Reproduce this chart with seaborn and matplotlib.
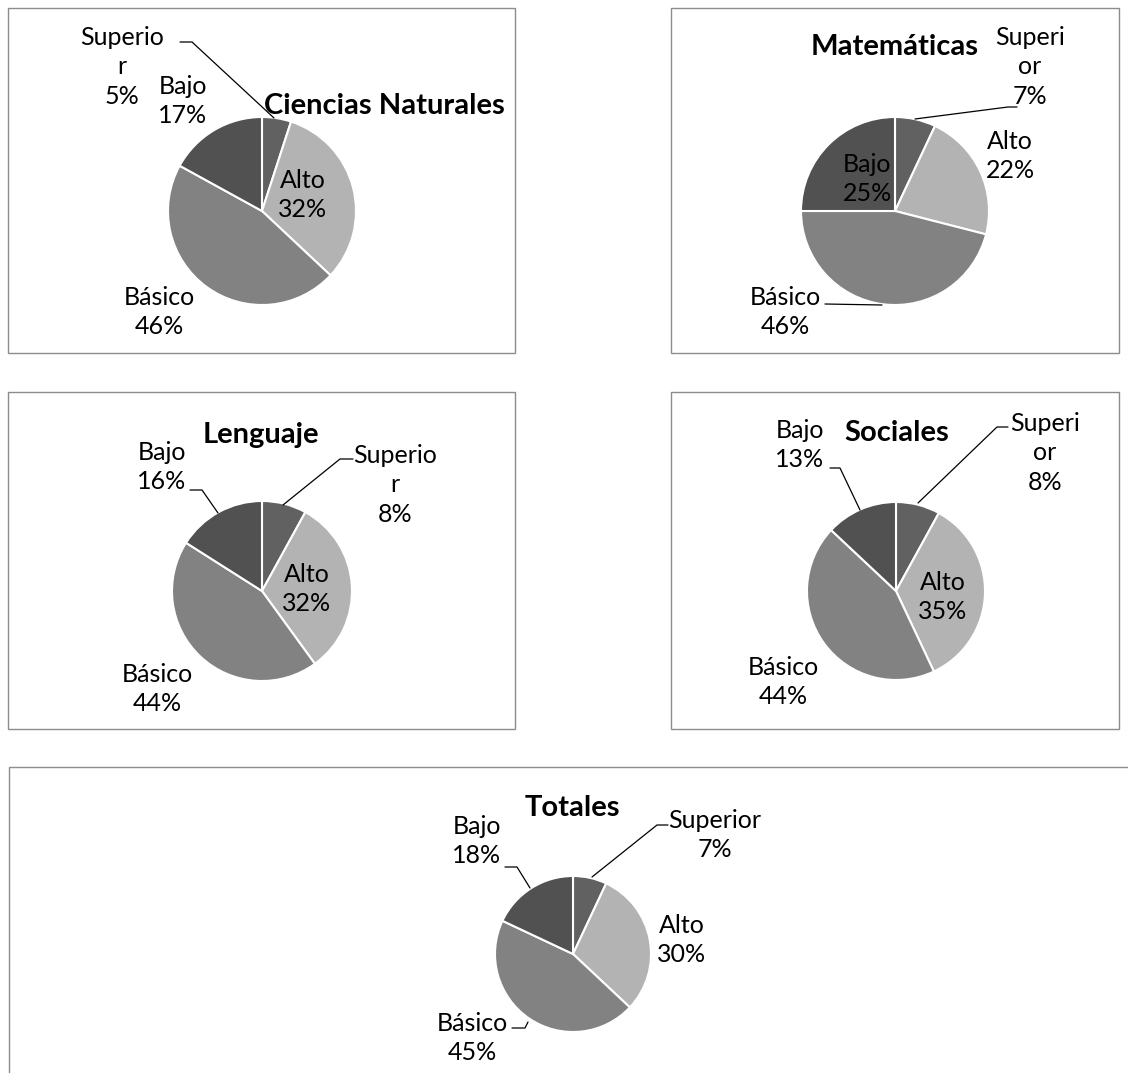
import matplotlib
matplotlib.use("Agg")
import matplotlib.pyplot as plt
from matplotlib.patches import Rectangle
import seaborn as sns

# Performance levels, in clockwise order from 12 o'clock
levels = ["Superior", "Alto", "Básico", "Bajo"]
level_colors = ["#616161", "#b3b3b3", "#828282", "#515151"]

# Percentage of students in each level, per subject
subjects = ["Ciencias Naturales", "Matemáticas", "Lenguaje", "Sociales", "Totales"]
ciencias = [5, 32, 46, 17]
matematicas = [7, 22, 46, 25]
lenguaje = [8, 32, 44, 16]
sociales = [8, 35, 44, 13]
totales = [7, 30, 45, 18]
values = [ciencias, matematicas, lenguaje, sociales, totales]

# Data labels as they are wrapped in each chart (category name + percentage)
label_names = [
    ["Superio\nr", "Alto", "Básico", "Bajo"],
    ["Superi\nor", "Alto", "Básico", "Bajo"],
    ["Superio\nr", "Alto", "Básico", "Bajo"],
    ["Superi\nor", "Alto", "Básico", "Bajo"],
    ["Superior", "Alto", "Básico", "Bajo"],
]

W, H = 1128, 1073

sns.set_theme(style="white")
plt.rcParams["font.family"] = ["Lato", "DejaVu Sans"]

fig = plt.figure(figsize=(W / 100, H / 100), dpi=100)
ax = fig.add_axes([0, 0, 1, 1])


def Y(y):
    # work in top-down pixel rows
    return H - y


# layout of each chart: frame box, pie centre/radius, title position,
# label centres and leader lines (in pixels, top-down)
layout = [
    dict(box=(8, 8, 515, 353), c=(262, 211), r=94, title=(384, 106),
         labels=[(122, 67), (303, 195), (159, 312), (183, 101)],
         leaders=[[(180, 42), (192, 42), (274, 118)], None, None, None]),
    dict(box=(671, 8, 1119, 353), c=(895, 211), r=94, title=(895, 47),
         labels=[(1030, 67), (1010, 156), (785, 312), (867, 179)],
         leaders=[[(1017, 107), (1008, 107), (915, 119)], None,
                  [(825, 304), (882, 305)], None]),
    dict(box=(8, 392, 515, 729), c=(262, 591), r=90, title=(261, 435),
         labels=[(395, 485), (307, 589), (157, 689), (162, 467)],
         leaders=[[(353, 459), (340, 459), (283, 505)], None, None,
                  [(190, 490), (202, 490), (218, 513)]]),
    dict(box=(671, 392, 1119, 729), c=(896, 591), r=89, title=(897, 433),
         labels=[(1045, 453), (943, 597), (783, 682), (800, 445)],
         leaders=[[(1008, 427), (997, 427), (918, 503)], None, None,
                  [(830, 468), (840, 468), (860, 510)]]),
    dict(box=(9, 767, 1140, 1090), c=(573, 954), r=78, title=(572, 808),
         labels=[(715, 835), (682, 940), (472, 1038), (477, 841)],
         leaders=[[(668, 825), (657, 825), (592, 877)], None,
                  [(512, 1028), (525, 1028), (528, 1022)],
                  [(505, 867), (517, 867), (530, 888)]]),
]

FS = 18
TFS = 21

for name, vals, names, lay in zip(subjects, values, label_names, layout):
    x0, y0, x1, y1 = lay["box"]
    ax.add_patch(Rectangle((x0, Y(y1)), x1 - x0, y1 - y0, fill=False,
                           edgecolor="#8c8c8c", linewidth=1.0, zorder=0))
    cx, cy = lay["c"]
    ax.pie(vals, colors=level_colors, startangle=90, counterclock=False,
           center=(cx, Y(cy)), radius=lay["r"],
           wedgeprops=dict(edgecolor="white", linewidth=1.5), frame=True)
    tx, ty = lay["title"]
    ax.text(tx, Y(ty), name, ha="center", va="center", fontsize=TFS,
            fontweight="bold", color="black", zorder=5)
    for nm, v, (lx, ly), ld in zip(names, vals, lay["labels"], lay["leaders"]):
        ax.text(lx, Y(ly), f"{nm}\n{v}%", ha="center", va="center",
                fontsize=FS, color="black", linespacing=1.32, zorder=5)
        if ld is not None:
            ax.plot([p[0] for p in ld], [Y(p[1]) for p in ld],
                    color="black", linewidth=0.9, zorder=4)

ax.set_xlim(0, W)
ax.set_ylim(0, H)
ax.set_aspect("equal")
ax.axis("off")

fig.savefig("out.png", dpi=100, facecolor="white")
